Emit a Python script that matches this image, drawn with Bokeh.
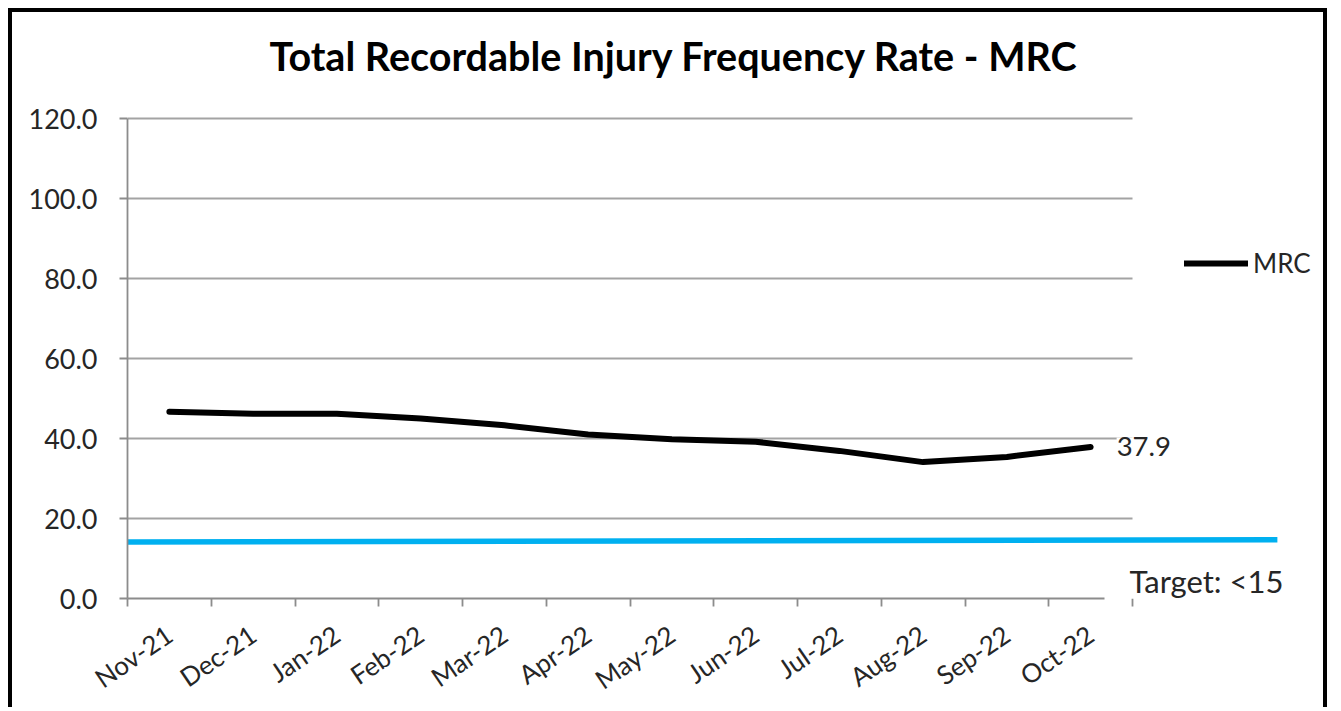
from bokeh.plotting import figure
from bokeh.models import (FixedTicker, NumeralTickFormatter, Label, Legend,
                          LegendItem, Range1d)
from bokeh.embed import file_html
from bokeh.resources import INLINE

# ---------------- data ----------------
months = ["Nov-21", "Dec-21", "Jan-22", "Feb-22", "Mar-22", "Apr-22",
          "May-22", "Jun-22", "Jul-22", "Aug-22", "Sep-22", "Oct-22"]
trifr = [46.7, 46.2, 46.2, 45.0, 43.3, 41.0, 39.8, 39.2, 36.9, 34.1, 35.4, 37.9]
y_ticks = [0, 20, 40, 60, 80, 100, 120]
target_y = [14.1, 14.7]
series_name = "MRC"
title_text = "Total Recordable Injury Frequency Rate - MRC"
target_text = "Target: <15"

# ---------------- layout ----------------
n = len(months)
centers = [i + 0.5 for i in range(n)]
boundaries = list(range(n + 1))

PX = 83.75          # pixels per category
PY = 4.0            # pixels per y unit
W_CONTENT = 1319
H_CONTENT = 699
LEFT = 115
BOTTOM = 113
frame_w = W_CONTENT - LEFT
frame_h = H_CONTENT - BOTTOM
x_end = frame_w / PX
y_end = frame_h / PY

FONT = "Lato"
GRID = "#a3a3a3"
AXIS = "#8c8c8c"
TXT = "#262626"

p = figure(width=W_CONTENT, height=H_CONTENT,
           x_range=Range1d(0, x_end), y_range=Range1d(0, y_end),
           output_backend="svg", toolbar_location=None,
           min_border_left=LEFT, min_border_bottom=BOTTOM,
           min_border_top=0, min_border_right=0)
p.styles = {"margin-left": "8px", "margin-top": "8px",
            "border-left": "4px solid black",
            "border-top": "4px solid black",
            "border-right": "4px solid black"}
p.outline_line_color = None
p.xgrid.visible = False
p.ygrid.visible = False
p.background_fill_color = "white"
p.border_fill_color = "white"

# gridlines (category span only)
grid_y = y_ticks[1:]
p.segment(x0=[boundaries[0]] * len(grid_y), x1=[boundaries[-1]] * len(grid_y),
          y0=grid_y, y1=grid_y, line_color=GRID, line_width=1.8)

# target line
p.line(x=[-0.5, 13.73], y=target_y, line_color="#00B0F0", line_width=5.5)

# main series
r = p.line(x=centers, y=trifr, line_color="black", line_width=6,
           line_cap="round", line_join="round")

# data label for the last point
p.add_layout(Label(x=centers[-1], y=trifr[-1], text=f"{trifr[-1]:.1f}",
                   x_offset=26, text_align="left", text_baseline="middle",
                   text_font=FONT, text_font_size="27.5px", text_color=TXT,
                   background_fill_color="white"))

# target text
p.add_layout(Label(x=(1129 - 127) / PX, y=18 / PY, text=target_text,
                   text_align="left", text_baseline="middle",
                   text_font=FONT, text_font_size="31px", text_color=TXT,
                   background_fill_color="white"))

# title
p.add_layout(Label(x=546.5 / PX, y=543 / PY, text=title_text,
                   text_align="center", text_baseline="middle",
                   text_font=FONT, text_font_style="bold",
                   text_font_size="39.5px", text_color="black"))

# y axis
ya = p.yaxis[0]
ya.ticker = FixedTicker(ticks=y_ticks)
ya.formatter = NumeralTickFormatter(format="0.0")
ya.bounds = (y_ticks[0], y_ticks[-1])
ya.major_tick_out = 8
ya.major_tick_in = 0
ya.minor_tick_out = 0
ya.minor_tick_in = 0
ya.axis_line_color = AXIS
ya.axis_line_width = 1.8
ya.major_tick_line_color = AXIS
ya.major_tick_line_width = 1.8
ya.major_label_standoff = 22
ya.major_label_text_font = FONT
ya.major_label_text_font_size = "27px"
ya.major_label_text_color = TXT

# x axis
xa = p.xaxis[0]
xa.ticker = FixedTicker(ticks=centers, minor_ticks=boundaries)
xa.major_label_overrides = {c: m for c, m in zip(centers, months)}
xa.bounds = (0, 11.67)
xa.major_tick_out = 0
xa.major_tick_in = 0
xa.minor_tick_out = 8
xa.minor_tick_in = 0
xa.axis_line_color = AXIS
xa.axis_line_width = 1.8
xa.minor_tick_line_color = AXIS
xa.minor_tick_line_width = 1.8
xa.major_label_orientation = 0.6
xa.major_label_standoff = 25
xa.major_label_text_font = FONT
xa.major_label_text_font_size = "26px"
xa.major_label_text_color = TXT

# legend
legend = Legend(items=[LegendItem(label=series_name, renderers=[r])],
                location=(1057, 319), padding=0, margin=0, spacing=0,
                border_line_color=None, background_fill_alpha=0,
                glyph_width=64, glyph_height=30, label_standoff=5,
                label_text_font=FONT, label_text_font_size="26px",
                label_text_color=TXT)
p.add_layout(legend)

open("out.html", "w").write(file_html(p, INLINE))
